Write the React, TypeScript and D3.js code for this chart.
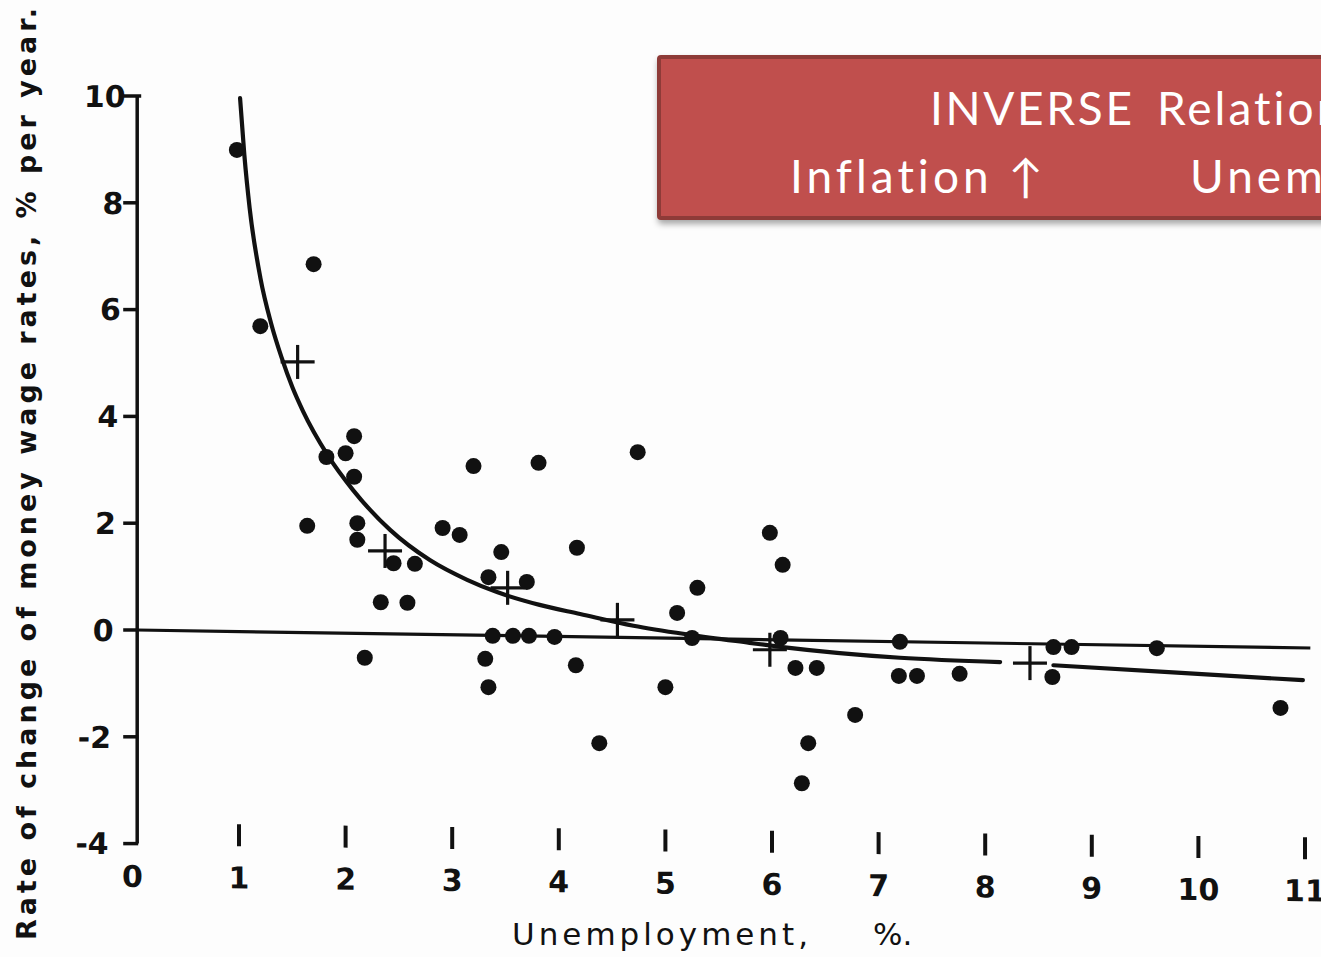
import React from "react";
import * as d3 from "d3";

// ---- Data ----
const dotsUnemployment = [
  0.98, 1.2, 1.7, 1.64, 1.82, 2.0, 2.08, 2.08, 2.11, 2.11, 2.18, 2.33, 2.58, 2.45, 2.65,
  2.91, 3.07, 3.2, 3.81, 3.46, 3.34, 3.7, 4.17, 3.38, 3.57, 3.72, 3.96, 3.31, 3.34, 4.16,
  4.38, 4.74, 5.0, 5.11, 5.3, 5.25, 5.98, 6.1, 6.08, 6.22, 6.42, 6.34, 6.28, 6.78, 7.2,
  7.19, 7.36, 7.76, 8.64, 8.81, 8.63, 9.61, 10.77,
];
const dotsWageChange = [
  8.99, 5.69, 6.85, 1.95, 3.24, 3.31, 3.63, 2.87, 2.0, 1.69, -0.52, 0.52, 0.51, 1.25, 1.24,
  1.91, 1.78, 3.07, 3.13, 1.46, 0.99, 0.9, 1.54, -0.11, -0.11, -0.11, -0.13, -0.54, -1.07, -0.66,
  -2.12, 3.33, -1.07, 0.32, 0.79, -0.15, 1.82, 1.22, -0.15, -0.71, -0.71, -2.12, -2.87, -1.59, -0.22,
  -0.86, -0.86, -0.82, -0.32, -0.32, -0.88, -0.34, -1.46,
];

const crossUnemployment = [1.55, 2.37, 3.52, 4.55, 5.98, 8.42];
const crossWageChange = [5.02, 1.48, 0.79, 0.19, -0.37, -0.62];

const curveAX = [1.01, 1.05, 1.1, 1.2, 1.3, 1.4, 1.5, 1.6, 1.83, 2.07, 2.42, 2.79, 3.14, 3.42, 3.82, 4.2, 4.7, 5.23, 5.79, 6.1, 7.2, 8.14];
const curveAY = [9.96, 8.9, 7.9, 6.6, 5.75, 5.1, 4.55, 4.1, 3.28, 2.62, 1.87, 1.31, 0.94, 0.71, 0.47, 0.3, 0.08, -0.09, -0.24, -0.32, -0.52, -0.6];
const curveBX = [8.64, 9.8, 10.98];
const curveBY = [-0.66, -0.8, -0.94];

const zeroLineX = [0.045, 11.05];
const zeroLineY = [0, -0.337];

const xTicks = [1, 2, 3, 4, 5, 6, 7, 8, 9, 10, 11];
const xTickLabels = ["1", "2", "3", "4", "5", "6", "7", "8", "9", "10", "11"];
const yTicks = [10, 8, 6, 4, 2, 0, -2, -4];
const yTickLabels = ["10", "8", "6", "4", "2", "0", "-2", "-4"];

const yTitle = "Rate of change of money wage rates, % per year.";
const xTitleA = "Unemployment,";
const xTitleB = "%.";
const boxLine1A = "INVERSE";
const boxLine1B = "Relationship";
const boxLine2A = "Inflation ↑";
const boxLine2B = "Unemployment ↓";

export default function App() {
  const W = 1321;
  const H = 957;
  const x = d3.scaleLinear().domain([0, 11]).range([132.4, 1305]);
  const y = d3.scaleLinear().domain([-4, 10]).range([843.6, 96]);
  const axisX = x(0.045);

  const line = d3
    .line<[number, number]>()
    .x((d) => x(d[0]))
    .y((d) => y(d[1]))
    .curve(d3.curveMonotoneX);
  const straight = d3
    .line<[number, number]>()
    .x((d) => x(d[0]))
    .y((d) => y(d[1]));

  const segA = curveAX.map((v, i) => [v, curveAY[i]] as [number, number]);
  const segB = curveBX.map((v, i) => [v, curveBY[i]] as [number, number]);
  const zero = zeroLineX.map((v, i) => [v, zeroLineY[i]] as [number, number]);

  const font = "'DejaVu Sans', sans-serif";
  const boxFont = "Lato, 'Open Sans', sans-serif";
  const ink = "#111";

  return (
    <svg
      width={W}
      height={H}
      style={{ position: "absolute", left: 0, top: 0 }}
      xmlns="http://www.w3.org/2000/svg"
    >
      <defs>
        <filter id="shadow" x="-10%" y="-20%" width="130%" height="160%">
          <feDropShadow dx="1" dy="4" stdDeviation="3" floodColor="#000" floodOpacity="0.35" />
        </filter>
      </defs>
      <rect x={0} y={0} width={W} height={H} fill="#fdfdfd" />

      {/* Y axis */}
      <line x1={axisX} x2={axisX} y1={y(10)} y2={y(-4)} stroke={ink} strokeWidth={3.5} />
      {yTicks.map((t) => (
        <line key={"yt" + t} x1={axisX - 14} x2={axisX + (t === 10 ? 4 : 1)} y1={y(t)} y2={y(t)} stroke={ink} strokeWidth={3.5} />
      ))}
      <g transform="translate(0,470) skewX(-1.3) translate(0,-470)">
        {yTicks.map((t, i) => (
          <text
            key={"yl" + t}
            x={axisX - 20}
            y={y(t)}
            dy="0.36em"
            textAnchor="end"
            fontFamily={font}
            fontWeight="bold"
            fontSize={30}
            fill={ink}
          >
            {yTickLabels[i]}
          </text>
        ))}
      </g>

      {/* X axis ticks and labels (slight scan skew) */}
      <g transform={`translate(${x(0)},0) skewY(0.7) translate(${-x(0)},0)`}>
        {xTicks.map((t) => (
          <line key={"xt" + t} x1={x(t)} x2={x(t)} y1={823} y2={845} stroke={ink} strokeWidth={4} />
        ))}
        <text x={x(0)} y={887} textAnchor="middle" fontFamily={font} fontWeight="bold" fontSize={30} fill={ink}>
          0
        </text>
        {xTicks.map((t, i) => (
          <text key={"xl" + t} x={x(t)} y={887} textAnchor="middle" fontFamily={font} fontWeight="bold" fontSize={30} fill={ink}>
            {xTickLabels[i]}
          </text>
        ))}
      </g>

      {/* Axis titles */}
      <text
        x={36}
        y={940}
        transform="rotate(-90, 36, 940)"
        fontFamily={font}
        fontWeight="bold"
        fontSize={27}
        fill={ink}
        textLength={932}
        lengthAdjust="spacing"
      >
        {yTitle}
      </text>
      <text x={512} y={945} fontFamily={font} fontSize={31} fill={ink} textLength={296} lengthAdjust="spacing">
        {xTitleA}
      </text>
      <text x={873} y={945} fontFamily={font} fontSize={31} fill={ink}>
        {xTitleB}
      </text>

      {/* Zero line and fitted curve */}
      <path d={straight(zero) || ""} fill="none" stroke={ink} strokeWidth={3.2} />
      <path d={line(segA) || ""} fill="none" stroke={ink} strokeWidth={4.2} strokeLinecap="round" />
      <path d={line(segB) || ""} fill="none" stroke={ink} strokeWidth={4.2} strokeLinecap="round" />

      {/* Crosses */}
      {crossUnemployment.map((u, i) => {
        const cx = x(u);
        const cy = y(crossWageChange[i]);
        return (
          <g key={"c" + i} stroke={ink} strokeWidth={3.2}>
            <line x1={cx - 17} x2={cx + 17} y1={cy} y2={cy} />
            <line x1={cx} x2={cx} y1={cy - 17} y2={cy + 17} />
          </g>
        );
      })}

      {/* Dots */}
      {dotsUnemployment.map((u, i) => (
        <circle key={"d" + i} cx={x(u)} cy={y(dotsWageChange[i])} r={8} fill={ink} />
      ))}

      {/* Annotation box */}
      <g filter="url(#shadow)">
        <rect x={659} y={57} width={700} height={161} fill="#C0504D" stroke="#8E3A38" strokeWidth={4} rx={2} />
      </g>
      <g fill="#ffffff" fontFamily={boxFont} fontSize={46}>
        <text x={930} y={125} textLength={202} lengthAdjust="spacing">
          {boxLine1A}
        </text>
        <text x={1157} y={125} letterSpacing={3}>
          {boxLine1B}
        </text>
        <text x={790} y={193} letterSpacing={4}>
          {boxLine2A}
        </text>
        <text x={1190} y={193} letterSpacing={4}>
          {boxLine2B}
        </text>
      </g>
    </svg>
  );
}
